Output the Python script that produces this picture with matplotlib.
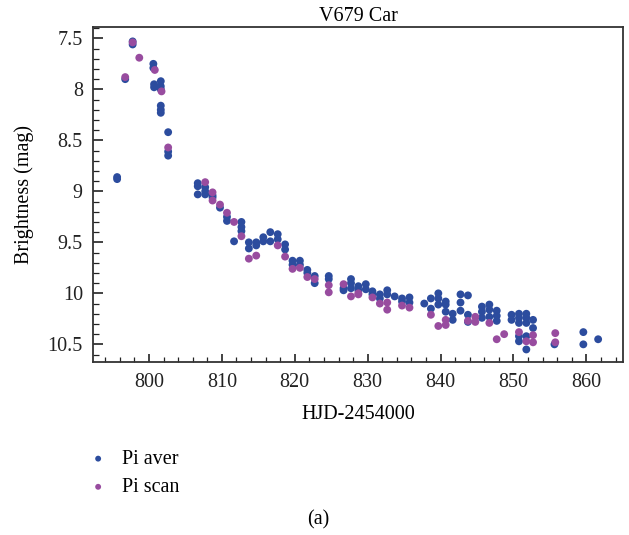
import matplotlib
matplotlib.use("Agg")
import matplotlib.pyplot as plt
from matplotlib.ticker import MultipleLocator

plt.rcParams['font.family'] = ['Liberation Serif', 'DejaVu Serif']

# Pi aver (blue) - HJD-2454000 vs magnitude
aver_day = [795.63, 795.63, 797.76, 797.76, 796.74, 800.60, 800.60, 800.70, 800.70,
            801.62, 801.62, 801.62, 801.62, 801.62, 801.62, 802.63, 802.63, 802.63,
            806.69, 806.69, 806.69, 807.71, 807.71, 807.71, 808.72, 808.72, 809.74,
            810.70, 810.70, 812.68, 812.68, 812.68, 811.67, 813.70, 813.70,
            814.71, 814.71, 815.68, 815.68, 816.64, 816.64, 817.66, 817.66,
            818.67, 818.67, 819.69, 819.69, 820.70, 820.70, 821.72, 821.72,
            822.73, 822.73, 824.66, 824.66, 826.69, 826.69, 827.71, 827.71, 827.71,
            828.72, 828.72, 829.74, 829.74, 830.65, 830.65, 831.67, 831.67,
            832.68, 832.68, 833.70, 834.71, 834.71, 835.73, 835.73, 837.76,
            838.67, 838.67, 839.69, 839.69, 839.69, 840.70, 840.70, 840.70,
            841.66, 841.66, 842.73, 842.73, 842.73, 843.75, 843.75, 843.75,
            845.67, 845.67, 845.67, 846.69, 846.69, 846.69, 847.70, 847.70, 847.70,
            849.73, 849.73, 850.75, 850.75, 850.75, 850.75, 850.75,
            851.76, 851.76, 851.76, 851.76, 851.76, 852.68, 852.68,
            855.62, 859.58, 859.58, 861.61]
aver_mag = [8.86, 8.88, 7.53, 7.56, 7.90, 7.75, 7.79, 7.95, 7.98,
            7.92, 7.97, 8.00, 8.16, 8.20, 8.23, 8.42, 8.61, 8.65,
            8.92, 8.95, 9.03, 8.96, 9.00, 9.03, 9.04, 9.06, 9.16,
            9.25, 9.29, 9.30, 9.35, 9.39, 9.49, 9.50, 9.56,
            9.50, 9.53, 9.45, 9.49, 9.40, 9.49, 9.42, 9.47,
            9.52, 9.57, 9.68, 9.72, 9.68, 9.72, 9.77, 9.80,
            9.83, 9.90, 9.83, 9.86, 9.95, 9.97, 9.86, 9.90, 9.95,
            9.93, 9.97, 9.91, 9.96, 9.98, 10.01, 10.01, 10.05,
            9.97, 10.01, 10.03, 10.05, 10.08, 10.04, 10.09, 10.10,
            10.05, 10.15, 10.00, 10.05, 10.11, 10.08, 10.11, 10.18,
            10.20, 10.26, 10.01, 10.09, 10.17, 10.02, 10.21, 10.28,
            10.13, 10.18, 10.24, 10.11, 10.16, 10.23, 10.17, 10.22, 10.27,
            10.21, 10.26, 10.20, 10.24, 10.29, 10.42, 10.47,
            10.20, 10.24, 10.29, 10.42, 10.55, 10.26, 10.34,
            10.50, 10.38, 10.50, 10.45]

# Pi scan (purple)
scan_day = [796.74, 797.76, 798.67, 800.80, 801.72, 802.63, 807.71, 808.72, 808.72,
            809.74, 810.70, 811.67, 812.68, 813.70, 814.71, 817.66, 818.67, 819.69,
            820.70, 821.72, 822.73, 824.66, 824.66, 826.69, 827.71, 828.72, 828.72,
            830.65, 831.67, 832.68, 832.68, 834.71, 835.73, 838.67, 839.69,
            840.70, 840.70, 843.75, 844.76, 844.76, 846.69, 847.70, 848.72,
            850.75, 851.76, 852.68, 852.68, 855.73, 855.73]
scan_mag = [7.88, 7.54, 7.69, 7.81, 8.02, 8.57, 8.91, 9.01, 9.09,
            9.13, 9.21, 9.30, 9.44, 9.66, 9.63, 9.53, 9.64, 9.76,
            9.75, 9.84, 9.86, 9.92, 9.99, 9.91, 10.03, 10.00, 10.01,
            10.04, 10.10, 10.09, 10.16, 10.12, 10.14, 10.21, 10.32,
            10.26, 10.31, 10.27, 10.23, 10.28, 10.29, 10.45, 10.40,
            10.38, 10.47, 10.41, 10.48, 10.39, 10.48]

BLUE = '#2c4c9e'
PURPLE = '#984c9f'
FS = 14.5

fig = plt.figure(figsize=(6.29, 5.35), dpi=100)
ax = fig.add_axes([0.1483, 0.3228, 0.8417, 0.6267])

ax.scatter(aver_day, aver_mag, s=32, color=BLUE, edgecolors='none', label='Pi aver', zorder=2)
ax.scatter(scan_day, scan_mag, s=32, color=PURPLE, edgecolors='none', label='Pi scan', zorder=3)

ax.set_xlim(792.36, 864.98)
ax.set_ylim(10.676, 7.389)

ax.xaxis.set_major_locator(MultipleLocator(10))
ax.xaxis.set_minor_locator(MultipleLocator(2))
ax.yaxis.set_major_locator(MultipleLocator(0.5))
ax.yaxis.set_minor_locator(MultipleLocator(0.1))
ax.yaxis.set_major_formatter(plt.FuncFormatter(lambda v, p: f"{v:g}"))

ax.tick_params(which='both', direction='in', top=False, right=False,
               labelsize=FS, colors='#222222')
ax.tick_params(axis='x', which='major', length=6, width=1.2, pad=8)
ax.tick_params(axis='x', which='minor', length=3.5, width=0.9)
ax.tick_params(axis='y', which='major', length=7, width=1.2, pad=7.5)
ax.tick_params(axis='y', which='minor', length=4.5, width=0.9)
for sp in ax.spines.values():
    sp.set_linewidth(1.3)
    sp.set_color('#333333')

ax.set_title('V679 Car', fontsize=FS, pad=4)
ax.set_xlabel('HJD-2454000', fontsize=FS, labelpad=9)
ax.set_ylabel('Brightness (mag)', fontsize=FS, labelpad=10)

fig.legend(loc='upper left', bbox_to_anchor=(0.108, 0.178), frameon=False,
           fontsize=FS, handletextpad=0.2, markerscale=0.75,
           labelspacing=0.45, borderpad=0)

fig.text(0.506, 0.028, '(a)', ha='center', va='center', fontsize=FS)

fig.savefig('out.png', dpi=100)
